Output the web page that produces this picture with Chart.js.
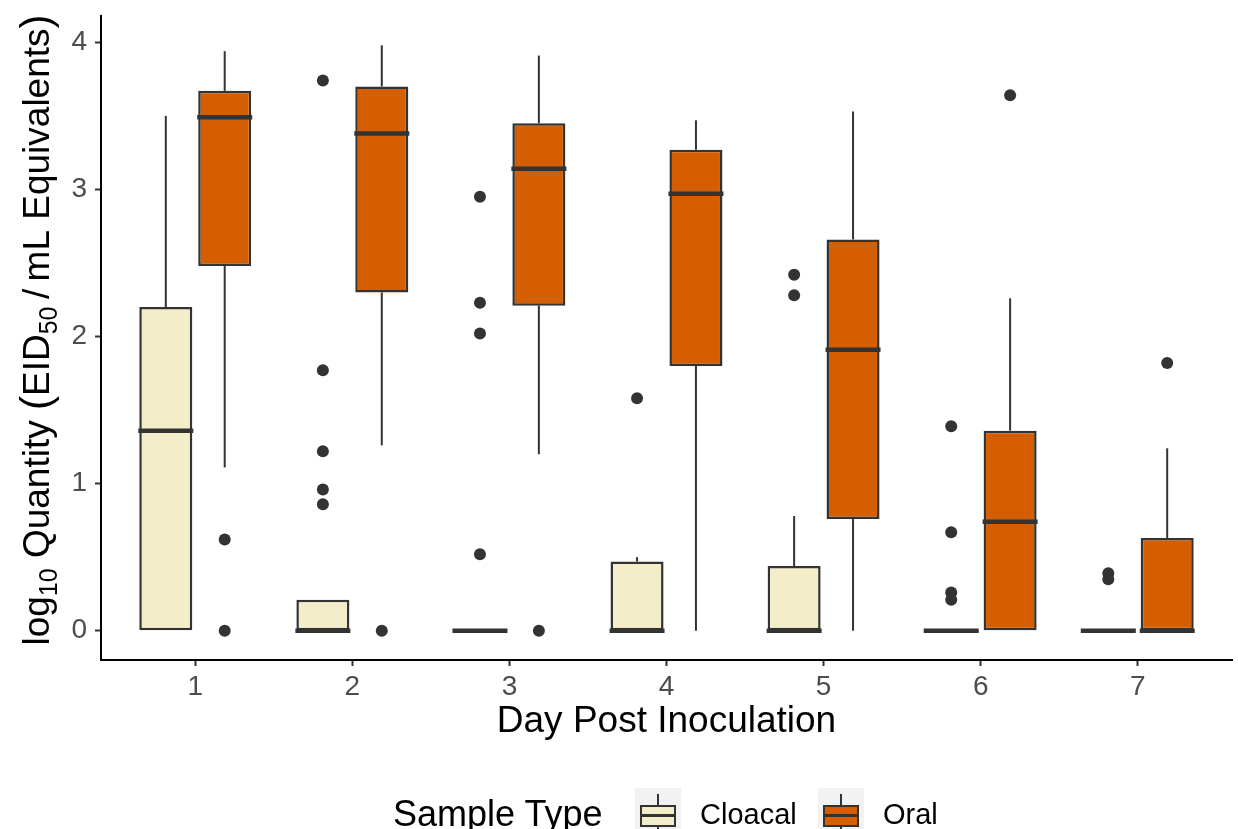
<!DOCTYPE html>
<html>
<head>
<meta charset="utf-8">
<script src="https://cdn.jsdelivr.net/npm/chart.js@4.4.1/dist/chart.umd.min.js"></script>
<style>
  body { margin: 0; background: #fff; }
  #wrap { position: relative; width: 1238px; height: 829px; overflow: hidden; background: #fff; }
  #grafico { position: absolute; left: 0; top: 0; }
  .leg { position: absolute; font-family: 'Liberation Sans', Arial, sans-serif; white-space: nowrap; }
  .leg-title { top: 788px; height: 52px; line-height: 52px; font-size: 36px; color: #000; }
  .leg-lab { top: 790px; height: 48px; line-height: 48px; font-size: 29px; color: #000; }
  .key { position: absolute; top: 788px; width: 46px; height: 56px; background: #f2f2f2; }
  .key .wh { position: absolute; left: 22px; top: 6px; width: 2px; height: 44px; background: #333; }
  .key .bx { position: absolute; left: 5px; top: 17px; width: 32px; height: 18px; border: 2px solid #333; }
  .key .md { position: absolute; left: 5px; top: 26px; width: 36px; height: 3px; background: #333; }
</style>
</head>
<body>
<div id="wrap">
  <canvas id="grafico" width="1238" height="829"></canvas>
  <span class="leg leg-title" style="left:393px">Sample Type</span>
  <div class="key" style="left:635px"><div class="wh"></div><div class="bx" style="background:#f3edca"></div><div class="md"></div></div>
  <span class="leg leg-lab" style="left:700px">Cloacal</span>
  <div class="key" style="left:818px"><div class="wh"></div><div class="bx" style="background:#d55e00"></div><div class="md"></div></div>
  <span class="leg leg-lab" style="left:883px">Oral</span>
</div>
<script>
// dias e ticks
const days = [1, 2, 3, 4, 5, 6, 7];
const yTicks = [0, 1, 2, 3, 4];

// Cloacal
const cloacalLow    = [0, 0, 0, 0, 0, 0, 0];
const cloacalQ1     = [0, 0, 0, 0, 0, 0, 0];
const cloacalMedian = [1.36, 0, 0, 0, 0, 0, 0];
const cloacalQ3     = [2.20, 0.21, 0, 0.47, 0.44, 0, 0];
const cloacalHigh   = [3.50, 0.21, 0, 0.50, 0.78, 0, 0];
const cloacalOutliers = [[], [3.74, 1.77, 1.22, 0.96, 0.86], [2.95, 2.23, 2.02, 0.52], [1.58], [2.42, 2.28], [1.39, 0.67, 0.26, 0.21], [0.39, 0.35]];

// Oral
const oralLow    = [1.11, 1.26, 1.20, 0, 0, 0, 0];
const oralQ1     = [2.48, 2.30, 2.21, 1.80, 0.76, 0, 0];
const oralMedian = [3.49, 3.38, 3.14, 2.97, 1.91, 0.74, 0];
const oralQ3     = [3.67, 3.70, 3.45, 3.27, 2.66, 1.36, 0.63];
const oralHigh   = [3.94, 3.98, 3.91, 3.47, 3.53, 2.26, 1.24];
const oralOutliers = [[0.62, 0], [0], [0], [], [], [3.64], [1.82]];

const dodge = 0.1875;
const lineColor = '#333333';

Chart.defaults.font.family = "'Liberation Sans', Arial, sans-serif";

const groups = [
    { low: cloacalLow, q1: cloacalQ1, med: cloacalMedian, q3: cloacalQ3, high: cloacalHigh },
    { low: oralLow, q1: oralQ1, med: oralMedian, q3: oralQ3, high: oralHigh }
];

const outlierPoints = (list, offset) => {
    const pts = [];
    list.forEach((vals, i) => vals.forEach(v => pts.push({ x: days[i] + offset, y: v })));
    return pts;
};

// whiskers e medianas desenhados com as escalas do gráfico
const boxDetails = {
    id: 'boxDetails',
    afterDatasetsDraw(chart) {
        const { ctx } = chart;
        const y = chart.scales.y;
        const line = (x1, y1, x2, y2) => {
            ctx.beginPath();
            ctx.moveTo(x1, y1);
            ctx.lineTo(x2, y2);
            ctx.stroke();
        };
        ctx.save();
        ctx.strokeStyle = lineColor;
        groups.forEach((g, di) => {
            const meta = chart.getDatasetMeta(di);
            meta.data.forEach((bar, i) => {
                const x = bar.x;
                const half = bar.width / 2;
                ctx.lineWidth = 2;
                if (g.high[i] > g.q3[i]) line(x, y.getPixelForValue(g.q3[i]), x, y.getPixelForValue(g.high[i]));
                if (g.low[i] < g.q1[i]) line(x, y.getPixelForValue(g.q1[i]), x, y.getPixelForValue(g.low[i]));
                ctx.lineWidth = 4.5;
                const ym = y.getPixelForValue(g.med[i]);
                line(x - half - 1, ym, x + half + 1, ym);
            });
        });
        ctx.restore();
    }
};

// título do eixo y com subscritos
const yTitle = {
    id: 'yTitle',
    afterDraw(chart) {
        const { ctx, chartArea } = chart;
        const fam = "'Liberation Sans', Arial, sans-serif";
        const parts = [
            { t: 'log', size: 37, dy: 0 },
            { t: '10', size: 25, dy: 8 },
            { t: ' Quantity ', size: 37, dy: 0 },
            { t: '(', size: 42, dy: 1 },
            { t: 'EID', size: 37, dy: 0 },
            { t: '50', size: 25, dy: 8 },
            { t: '\u2009/\u2009mL Equivalents', size: 37, dy: 0 },
            { t: ')', size: 42, dy: 1 }
        ];
        ctx.save();
        let total = 0;
        parts.forEach(p => {
            ctx.font = p.size + 'px ' + fam;
            p.w = ctx.measureText(p.t).width;
            total += p.w;
        });
        const cy = (chartArea.top + chartArea.bottom) / 2 - 8;
        ctx.translate(49, cy);
        ctx.rotate(-Math.PI / 2);
        ctx.fillStyle = '#000';
        ctx.textBaseline = 'alphabetic';
        ctx.textAlign = 'left';
        let pos = -total / 2;
        parts.forEach(p => {
            ctx.font = p.size + 'px ' + fam;
            ctx.fillText(p.t, pos, p.dy);
            pos += p.w;
        });
        ctx.restore();
    }
};

const axisCommon = {
    offset: false,
    grid: { display: true, offset: false, drawOnChartArea: false, drawTicks: true, tickLength: 6, tickColor: lineColor, tickWidth: 2 },
    border: { display: true, color: '#000', width: 2 }
};

new Chart(document.getElementById('grafico'), {
    type: 'bar',
    data: {
        datasets: [
            {
                label: 'Cloacal',
                data: days.map((d, i) => ({ x: d, y: [cloacalQ1[i], cloacalQ3[i]] })),
                backgroundColor: '#f3edca',
                borderColor: lineColor,
                borderWidth: 2.5,
                borderSkipped: false,
                categoryPercentage: 0.75,
                barPercentage: 0.9
            },
            {
                label: 'Oral',
                data: days.map((d, i) => ({ x: d, y: [oralQ1[i], oralQ3[i]] })),
                backgroundColor: '#d55e00',
                borderColor: lineColor,
                borderWidth: 2.5,
                borderSkipped: false,
                categoryPercentage: 0.75,
                barPercentage: 0.9
            },
            {
                type: 'scatter',
                label: 'Cloacal outliers',
                data: outlierPoints(cloacalOutliers, -dodge),
                pointRadius: 6,
                pointBackgroundColor: lineColor,
                pointBorderWidth: 0
            },
            {
                type: 'scatter',
                label: 'Oral outliers',
                data: outlierPoints(oralOutliers, dodge),
                pointRadius: 6,
                pointBackgroundColor: lineColor,
                pointBorderWidth: 0
            }
        ]
    },
    options: {
        responsive: false,
        animation: false,
        events: [],
        layout: { padding: { top: 16, right: -4, left: 0, bottom: 0 } },
        plugins: {
            legend: { display: false },
            tooltip: { enabled: false }
        },
        scales: {
            x: {
                ...axisCommon,
                type: 'linear',
                min: 0.4,
                max: 7.6,
                afterBuildTicks: s => { s.ticks = days.map(v => ({ value: v })); },
                afterFit: s => { s.height = 829 - 660; s.paddingLeft = 0; s.paddingRight = 0; },
                ticks: { color: '#4d4d4d', font: { size: 28 }, padding: 4, callback: v => String(v) },
                title: { display: true, text: 'Day Post Inoculation', color: '#000', font: { size: 37 }, padding: { top: 0, bottom: 85 } }
            },
            y: {
                ...axisCommon,
                type: 'linear',
                min: -0.199,
                max: 4.179,
                afterBuildTicks: s => { s.ticks = yTicks.map(v => ({ value: v })); },
                afterFit: s => { s.width = 101; s.paddingTop = 0; s.paddingBottom = 0; },
                ticks: { color: '#4d4d4d', font: { size: 28 }, padding: 8, callback: v => String(v) }
            }
        }
    },
    plugins: [boxDetails, yTitle]
});
</script>
</body>
</html>
